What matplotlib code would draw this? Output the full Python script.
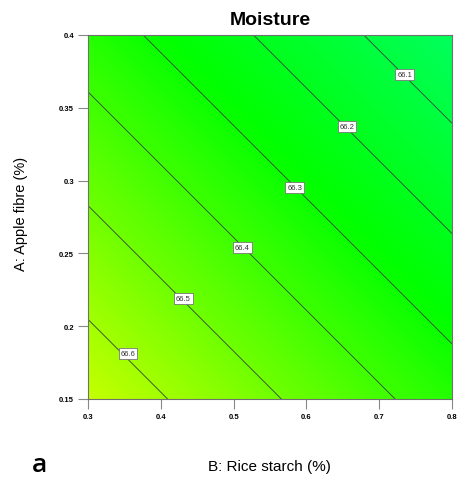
import numpy as np
import matplotlib
matplotlib.use('Agg')
import matplotlib.pyplot as plt
from matplotlib.colors import LinearSegmentedColormap

plt.rcParams['font.family'] = ['Liberation Sans', 'DejaVu Sans']

# factor ranges (corner points of the design region)
rice_starch = [0.3, 0.8]        # B
apple_fibre = [0.15, 0.4]       # A
# predicted moisture at the corners, rows = apple fibre, cols = rice starch
moisture = [[66.67, 66.35],
            [66.35, 66.02]]

levels = [66.1, 66.2, 66.3, 66.4, 66.5, 66.6]
# where the contour labels sit (B, A)
label_pos = [(0.735, 0.373), (0.656, 0.337), (0.584, 0.295),
             (0.512, 0.254), (0.431, 0.219), (0.355, 0.181)]

xticks = [0.3, 0.4, 0.5, 0.6, 0.7, 0.8]
yticks = [0.15, 0.2, 0.25, 0.3, 0.35, 0.4]

B, A = np.meshgrid(rice_starch, apple_fibre)
Z = np.array(moisture)

# design-expert like green ramp
cmap = LinearSegmentedColormap.from_list(
    'de', [(0.0, '#00ff5c'), (0.4, '#00ff00'), (1.0, '#c4ff00')])

fig = plt.figure(figsize=(4.59, 4.81), dpi=100)
ax = fig.add_axes([0.1917, 0.1684, 0.793, 0.7568])

fill_levels = np.linspace(Z.min() - 0.001, Z.max() + 0.001, 300)
ax.contourf(B, A, Z, levels=fill_levels, cmap=cmap,
            vmin=66.02, vmax=66.67, antialiased=False)
ax.contour(B, A, Z, levels=levels, colors='#35503a', linewidths=0.65)

for lv, (bx, ay) in zip(levels, label_pos):
    ax.text(bx, ay, f'{lv:.1f}', fontsize=5.5, color='#333333',
            ha='center', va='center', zorder=5,
            bbox=dict(facecolor='white', edgecolor='#777777',
                      linewidth=0.6, boxstyle='square,pad=0.25'))

ax.set_xlim(0.3, 0.8)
ax.set_ylim(0.15, 0.4)
ax.set_xticks(xticks)
ax.set_xticklabels([f'{v:g}' for v in xticks])
ax.set_yticks(yticks)
ax.set_yticklabels([f'{v:g}' for v in yticks])
ax.tick_params(direction='out', length=7.5, width=0.8, color='#888888',
               labelsize=5.5, pad=2.5)
for lab in ax.get_xticklabels() + ax.get_yticklabels():
    lab.set_fontweight('bold')
for sp in ax.spines.values():
    sp.set_color('#707070')
    sp.set_linewidth(0.8)

fig.text(0.588, 0.958, 'Moisture', fontsize=14, fontweight='bold',
         ha='center', va='center')
fig.text(0.588, 0.029, 'B: Rice starch (%)', fontsize=11,
         ha='center', va='center')
fig.text(0.046, 0.555, 'A: Apple fibre (%)', fontsize=10.5,
         ha='center', va='center', rotation=90)
fig.text(0.085, 0.032, 'a', fontsize=19, fontweight='semibold',
         ha='center', va='center', family='Open Sans')

fig.savefig('out.png', dpi=100)
